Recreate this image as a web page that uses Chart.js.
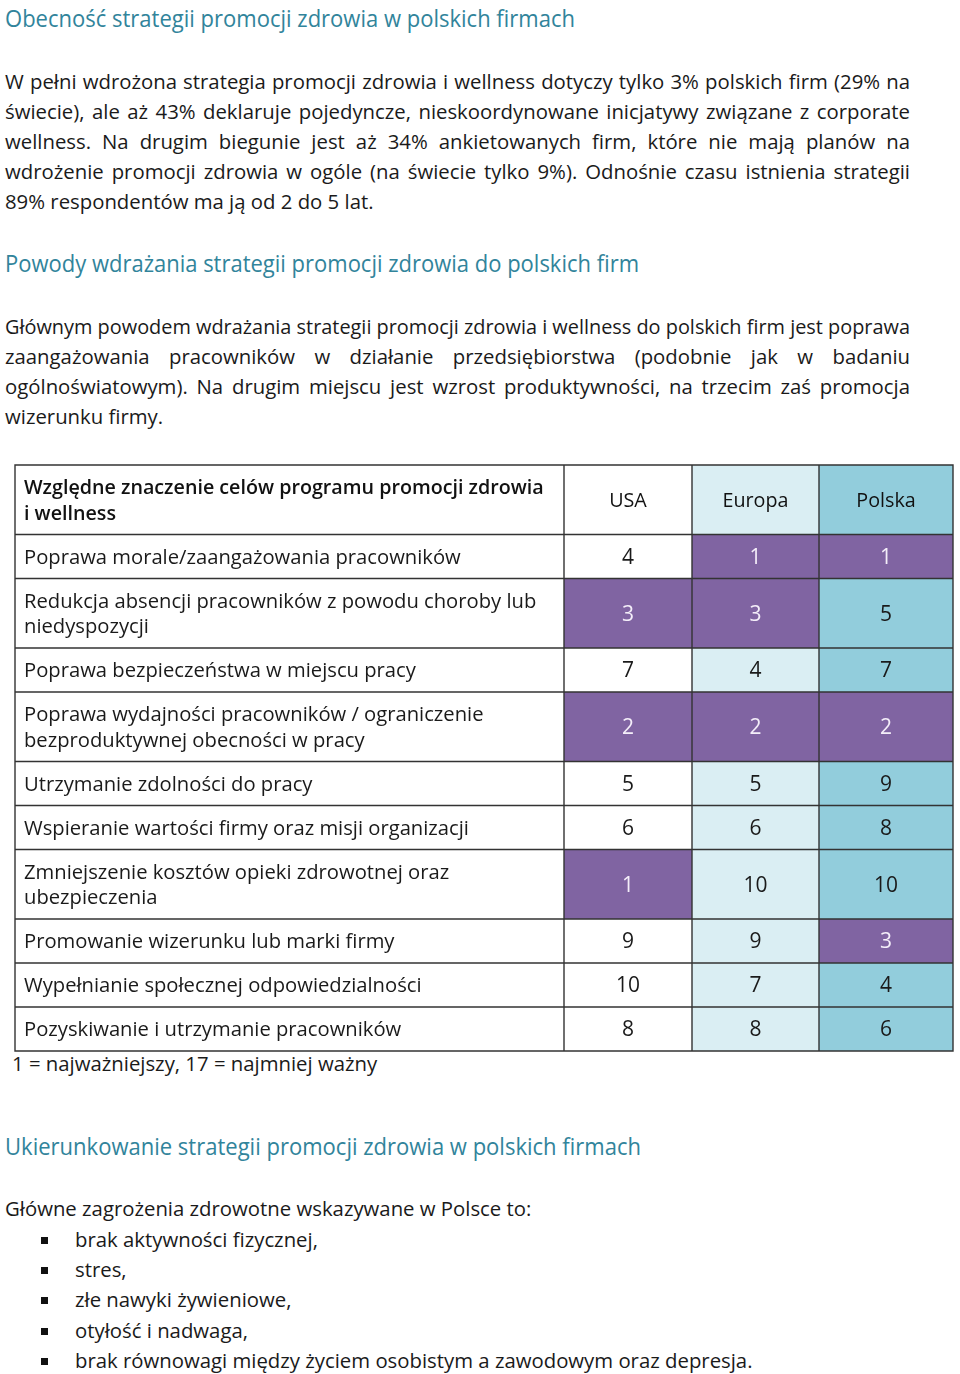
<!DOCTYPE html>
<html><head><meta charset="utf-8">
<script src="https://cdn.jsdelivr.net/npm/chart.js@4.4.1/dist/chart.umd.min.js"></script>
<style>
html,body{margin:0;padding:0;background:#fff;}
body{width:960px;height:1374px;position:relative;overflow:hidden;font-family:"Open Sans",sans-serif;color:#1a1a1a;}
.ln{position:absolute;height:30px;line-height:30px;white-space:nowrap;}
.h{color:#31849b;}
.sq{position:absolute;width:7px;height:7px;background:#111;}
#tbl{position:absolute;left:0;top:455px;width:960px;height:606px;}
</style></head><body>
<div id="page"></div>
<div id="tbl"><canvas id="c" width="960" height="606"></canvas></div>
<script>
// ---------- DATA ----------
const headerLabel = ["Względne znaczenie celów programu promocji zdrowia", "i wellness"];
const seriesNames = ["USA", "Europa", "Polska"];
const categories = [
  ["Poprawa morale/zaangażowania pracowników"],
  ["Redukcja absencji pracowników z powodu choroby lub", "niedyspozycji"],
  ["Poprawa bezpieczeństwa w miejscu pracy"],
  ["Poprawa wydajności pracowników / ograniczenie", "bezproduktywnej obecności w pracy"],
  ["Utrzymanie zdolności do pracy"],
  ["Wspieranie wartości firmy oraz misji organizacji"],
  ["Zmniejszenie kosztów opieki zdrowotnej oraz", "ubezpieczenia"],
  ["Promowanie wizerunku lub marki firmy"],
  ["Wypełnianie społecznej odpowiedzialności"],
  ["Pozyskiwanie i utrzymanie pracowników"]
];
const usaValues    = [4, 3, 7, 2, 5, 6, 1, 9, 10, 8];
const europaValues = [1, 3, 4, 2, 5, 6, 10, 9, 7, 8];
const polskaValues = [1, 5, 7, 2, 9, 8, 10, 3, 4, 6];
const footnote = "1 = najważniejszy, 17 = najmniej ważny";
const topRankThreshold = 3;

// ---------- TEXT ----------
const textLines = [
  {h:1, y:18, t:"Obecność strategii promocji zdrowia w polskich firmach", w:570},
  {y:81, j:1, t:"W pełni wdrożona strategia promocji zdrowia i wellness dotyczy tylko 3% polskich firm (29% na"},
  {y:111, j:1, t:"świecie), ale aż 43% deklaruje pojedyncze, nieskoordynowane inicjatywy związane z corporate"},
  {y:141, j:1, t:"wellness. Na drugim biegunie jest aż 34% ankietowanych firm, które nie mają planów na"},
  {y:171, j:1, t:"wdrożenie promocji zdrowia w ogóle (na świecie tylko 9%). Odnośnie czasu istnienia strategii"},
  {y:201, t:"89% respondentów ma ją od 2 do 5 lat."},
  {h:1, y:263, t:"Powody wdrażania strategii promocji zdrowia do polskich firm", w:634},
  {y:326, j:1, t:"Głównym powodem wdrażania strategii promocji zdrowia i wellness do polskich firm jest poprawa"},
  {y:356, j:1, t:"zaangażowania pracowników w działanie przedsiębiorstwa (podobnie jak w badaniu"},
  {y:386, j:1, t:"ogólnoświatowym). Na drugim miejscu jest wzrost produktywności, na trzecim zaś promocja"},
  {y:416, t:"wizerunku firmy."},
  {y:1063, x:12, t:footnote},
  {h:1, y:1146, t:"Ukierunkowanie strategii promocji zdrowia w polskich firmach", w:636},
  {y:1208, t:"Główne zagrożenia zdrowotne wskazywane w Polsce to:"},
  {y:1239, x:75, b:1, t:"brak aktywności fizycznej,"},
  {y:1269, x:75, b:1, t:"stres,"},
  {y:1299, x:75, b:1, t:"złe nawyki żywieniowe,"},
  {y:1330, x:75, b:1, t:"otyłość i nadwaga,"},
  {y:1360, x:75, b:1, t:"brak równowagi między życiem osobistym a zawodowym oraz depresja."}
];

const FONT = '"Open Sans", sans-serif';
const mctx = document.createElement('canvas').getContext('2d');
function fitSize(text, target, weight){
  mctx.font = (weight||400) + ' 100px ' + FONT;
  return 100 * target / mctx.measureText(text).width;
}
const bodySize = (fitSize("brak równowagi między życiem osobistym a zawodowym oraz depresja.", 674) +
                  fitSize("Główne zagrożenia zdrowotne wskazywane w Polsce to:", 530)) / 2;
const page = document.getElementById('page');
const TEXT_W = 905;
textLines.forEach(L => {
  const d = document.createElement('div');
  d.className = 'ln' + (L.h ? ' h' : '');
  d.style.top = (L.y - 15) + 'px';
  d.style.left = (L.x || 5) + 'px';
  d.style.fontSize = (L.h ? 24.5 : bodySize) + 'px';
  const s = document.createElement('span');
  s.textContent = L.t;
  d.appendChild(s);
  page.appendChild(d);
  const nat = s.getBoundingClientRect().width;
  if (L.h) {
    s.style.display = 'inline-block';
    s.style.transformOrigin = '0 50%';
    s.style.transform = 'scaleX(' + (L.w / nat) + ')';
  } else if (L.j) {
    if (nat > TEXT_W) {
      s.style.display = 'inline-block';
      s.style.transformOrigin = '0 50%';
      s.style.transform = 'scaleX(' + (TEXT_W / nat) + ')';
    } else {
      d.style.whiteSpace = 'normal';
      d.style.width = TEXT_W + 'px';
      d.style.textAlign = 'justify';
      d.style.textAlignLast = 'justify';
    }
  }
  if (L.b) {
    const q = document.createElement('div');
    q.className = 'sq';
    q.style.left = '41px';
    q.style.top = (L.y - 2) + 'px';
    page.appendChild(q);
  }
});

// ---------- TABLE (Chart.js) ----------
const colWidths = [549, 128, 127, 134];
const colFills = ['#ffffff', '#ffffff', '#daeef3', '#92cddc'];
const purple = '#8064a2';
const lineH = 25.5, rowPad = 18.5;
const rowLineCounts = [headerLabel.length].concat(categories.map(c => c.length));
const colEdges = [0]; colWidths.forEach(w => colEdges.push(colEdges[colEdges.length-1] + w));
const rowEdges = [0]; rowLineCounts.forEach(n => rowEdges.push(rowEdges[rowEdges.length-1] + rowPad + n*lineH));
const tableW = colEdges[colEdges.length-1], tableH = rowEdges[rowEdges.length-1];
const colCenter = c => (colEdges[c] + colEdges[c+1]) / 2;
const rowCenter = r => (rowEdges[r] + rowEdges[r+1]) / 2;

const labelSize = fitSize("Poprawa morale/zaangażowania pracowników", 437);
const headSize = fitSize("Względne znaczenie celów programu promocji zdrowia", 520, 600);
const colTitleSize = fitSize("Europa", 66);
const numSize = 21;

const allSeries = [usaValues, europaValues, polskaValues];
const datasets = seriesNames.map((name, k) => ({
  label: name,
  data: allSeries[k].map((v, i) => ({x: colCenter(k+1), y: rowCenter(i+1), v: v})),
  pointRadius: 0, pointHoverRadius: 0, showLine: false
}));

const tablePlugin = {
  id: 'tableCells',
  afterDatasetsDraw(chart) {
    const ctx = chart.ctx, xs = chart.scales.x, ys = chart.scales.y;
    const px = v => xs.getPixelForValue(v), py = v => ys.getPixelForValue(v);
    ctx.save();
    for (let r = 0; r < rowLineCounts.length; r++) {
      for (let c = 0; c < colWidths.length; c++) {
        let fill = colFills[c];
        if (r > 0 && c > 0 && chart.data.datasets[c-1].data[r-1].v <= topRankThreshold) fill = purple;
        ctx.fillStyle = fill;
        const x0 = px(colEdges[c]), x1 = px(colEdges[c+1]);
        const y0 = py(rowEdges[r]), y1 = py(rowEdges[r+1]);
        ctx.fillRect(x0, y0, x1 - x0, y1 - y0);
      }
    }
    ctx.textBaseline = 'alphabetic';
    ctx.fillStyle = '#111';
    ctx.font = '600 ' + headSize + 'px ' + FONT;
    ctx.textAlign = 'left';
    headerLabel.forEach((t, i) => {
      const cy = py(rowCenter(0)) + (i - (headerLabel.length-1)/2) * lineH;
      ctx.fillText(t, px(colEdges[0]) + 9, cy + 0.357*headSize);
    });
    ctx.font = '400 ' + colTitleSize + 'px ' + FONT;
    ctx.textAlign = 'center';
    seriesNames.forEach((n, k) => {
      ctx.fillText(n, px(colCenter(k+1)), py(rowCenter(0)) + 0.357*colTitleSize);
    });
    ctx.font = '400 ' + labelSize + 'px ' + FONT;
    ctx.textAlign = 'left';
    ctx.fillStyle = '#1a1a1a';
    chart.data.labels.forEach((lines, i) => {
      const cyc = py(rowCenter(i+1));
      lines.forEach((t, j) => {
        const cy = cyc + (j - (lines.length-1)/2) * lineH;
        ctx.fillText(t, px(colEdges[0]) + 9, cy + 0.357*labelSize);
      });
    });
    ctx.textAlign = 'center';
    ctx.font = '400 ' + numSize + 'px ' + FONT;
    chart.data.datasets.forEach(ds => {
      ds.data.forEach(pt => {
        ctx.fillStyle = pt.v <= topRankThreshold ? '#f4eef9' : '#1a1a1a';
        ctx.fillText(String(pt.v), px(pt.x), py(pt.y) + 0.357*numSize);
      });
    });
    ctx.strokeStyle = '#333333';
    ctx.lineWidth = 1.4;
    ctx.beginPath();
    rowEdges.forEach(e => { ctx.moveTo(px(0) - 0.7, py(e)); ctx.lineTo(px(tableW) + 0.7, py(e)); });
    colEdges.forEach(e => { ctx.moveTo(px(e), py(0) - 0.7); ctx.lineTo(px(e), py(tableH) + 0.7); });
    ctx.stroke();
    ctx.restore();
  }
};

new Chart(document.getElementById('c'), {
  type: 'scatter',
  data: { labels: categories, datasets: datasets },
  options: {
    responsive: false,
    animation: false,
    events: [],
    layout: { padding: { left: 15, right: 7, top: 10, bottom: 10 } },
    plugins: { legend: { display: false }, tooltip: { enabled: false } },
    scales: {
      x: { type: 'linear', min: 0, max: tableW, display: false },
      y: { type: 'linear', min: 0, max: tableH, reverse: true, display: false }
    }
  },
  plugins: [tablePlugin]
});
</script>
</body></html>
